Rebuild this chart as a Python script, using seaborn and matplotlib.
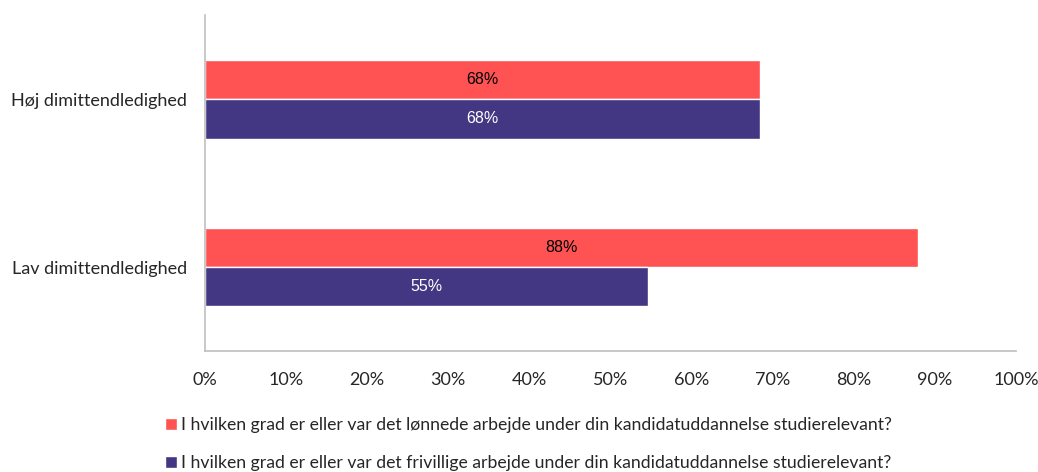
import pandas as pd
import numpy as np
import matplotlib.pyplot as plt
import seaborn as sns

categories = ["Høj dimittendledighed", "Lav dimittendledighed"]
series = [
    "I hvilken grad er eller var det lønnede arbejde under din kandidatuddannelse studierelevant?",
    "I hvilken grad er eller var det frivillige arbejde under din kandidatuddannelse studierelevant?",
]
paid = [68.4, 87.9]
volunteer = [68.4, 54.6]
colors = ["#FF5252", "#433683"]

df = pd.DataFrame({
    "Kategori": categories * 2,
    "Serie": [series[0]] * 2 + [series[1]] * 2,
    "Andel": paid + volunteer,
})

sns.set_style("white")
plt.rcParams["font.family"] = ["Lato", "DejaVu Sans"]

fig = plt.figure(figsize=(10.38, 4.72), dpi=100)
ax = fig.add_axes([0.1975, 0.2564, 0.7813, 0.7116])

sns.barplot(data=df, y="Kategori", x="Andel", hue="Serie", orient="h",
            palette=colors, width=0.47, ax=ax, saturation=1, legend=True)

label_colors = ["black", "white"]
for cont, lc in zip(ax.containers, label_colors):
    ax.bar_label(cont, labels=[f"{v:.0f}%" for v in cont.datavalues],
                 label_type="center", color=lc, fontsize=11.5,
                 family=["Liberation Sans", "DejaVu Sans"])

ax.set_xlim(0, 100)
ax.set_ylim(1.5, -0.5)
ax.set_xticks(np.arange(0, 101, 10))
ax.set_xticklabels([f"{t}%" for t in range(0, 101, 10)], fontsize=13)
ax.tick_params(axis="y", labelsize=13, length=0, pad=13)
ax.tick_params(axis="x", length=0, pad=15)
ax.set_xlabel("")
ax.set_ylabel("")
for s in ["top", "right"]:
    ax.spines[s].set_visible(False)
for s in ["left", "bottom"]:
    ax.spines[s].set_color("#BFBFBF")
    ax.spines[s].set_linewidth(1.2)

handles, labels = ax.get_legend_handles_labels()
ax.get_legend().remove()
fig.legend(handles, labels, loc="upper left", bbox_to_anchor=(0.15, 0.135),
           frameon=False, fontsize=12.7, ncol=1, handlelength=0.7, handleheight=0.7,
           handletextpad=0.25, labelspacing=1.25, borderpad=0)

fig.savefig("out.png", dpi=100)
